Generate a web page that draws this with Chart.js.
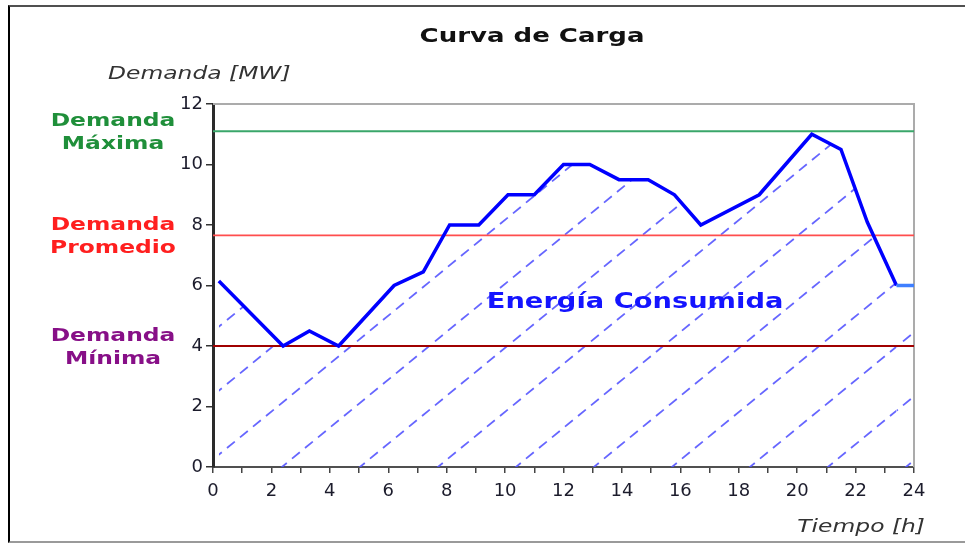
<!DOCTYPE html>
<html>
<head>
<meta charset="utf-8">
<title>Curva de Carga</title>
<script src="https://cdn.jsdelivr.net/npm/chart.js@4.4.1/dist/chart.umd.min.js"></script>
<style>
  html, body { margin: 0; padding: 0; background: #fff; }
  #frame { position: absolute; left: 8px; top: 5px; width: 957px; height: 534px;
           border-left: 2px solid #000; border-top: 2px solid #505050; border-bottom: 2px solid #9a9a9a; }
  #wrap { position: absolute; left: 0; top: 0; width: 965px; height: 543px; }
</style>
</head>
<body>
<div id="frame"></div>
<div id="wrap"><canvas id="curva"></canvas></div>
<script>
// horas y demanda
const horas   = [0.2, 2.4, 3.3, 4.3, 6.2, 7.2, 8.1, 9.1, 10.1, 11, 12, 12.9, 13.9, 14.9, 15.8, 16.7, 18.7, 20.5, 21.5, 22.4, 23.4, 24];
const demanda = [6.15, 4, 4.5, 4, 6, 6.45, 8, 8, 9, 9, 10, 10, 9.5, 9.5, 9, 8, 9, 11, 10.5, 8.1, 6, 6];

// niveles de referencia: maxima, promedio, minima
const niveles = [11.1, 7.66, 4.0];
const nivelNombres = [['Demanda', 'Máxima'], ['Demanda', 'Promedio'], ['Demanda', 'Mínima']];

const rangoX = [0, 24];
const rangoY = [0, 12];

// rayado diagonal punteado para la energia consumida
function hacerRayado() {
  const tw = 78, th = 64;
  const tile = document.createElement('canvas');
  tile.width = tw; tile.height = th;
  const t = tile.getContext('2d');
  const paso = Math.hypot(tw, th) / 6;
  t.strokeStyle = 'rgba(85,85,255,0.9)';
  t.lineWidth = 1.8;
  t.setLineDash([paso * 0.6, paso * 0.4]);
  for (let k = 0; k <= 2; k++) {
    t.beginPath();
    t.moveTo((k - 2) * tw, 2 * th);
    t.lineTo((k + 1) * tw, -th);
    t.stroke();
  }
  const pat = t.createPattern(tile, 'repeat');
  pat.setTransform(new DOMMatrix().translate(-7, 0));
  return pat;
}

const SX = 1.3; // el texto original esta estirado a lo ancho
function texto(ctx, str, x, y, font, color, align) {
  ctx.save();
  ctx.translate(x, y);
  ctx.scale(SX, 1);
  ctx.font = font;
  ctx.fillStyle = color;
  ctx.textAlign = align;
  ctx.textBaseline = 'alphabetic';
  ctx.fillText(str, 0, 0);
  ctx.restore();
}

const marco = {
  id: 'marco',
  beforeDatasetsDraw(chart) {
    const { ctx, chartArea: a } = chart;
    ctx.save();
    ctx.strokeStyle = '#ababab';
    ctx.lineWidth = 2;
    ctx.beginPath();
    ctx.moveTo(a.left, a.top);
    ctx.lineTo(a.right, a.top);
    ctx.lineTo(a.right, a.bottom);
    ctx.stroke();
    ctx.restore();
  }
};

const coloresNivel = ['#1f8f3a', '#ff1f1f', '#870f87'];

const rotulos = {
  id: 'rotulos',
  afterDraw(chart) {
    const { ctx, scales: { x, y } } = chart;
    texto(ctx, 'Curva de Carga', 532, 42, 'bold 20px "DejaVu Sans"', '#111', 'center');
    texto(ctx, 'Demanda [MW]', 108, 79, 'italic 18px "DejaVu Sans"', '#333', 'left');
    texto(ctx, 'Tiempo [h]', 925, 532, 'italic 18px "DejaVu Sans"', '#333', 'right');
    texto(ctx, 'Energía Consumida', x.getPixelForValue(14.45), y.getPixelForValue(5.25),
          'bold 21px "DejaVu Sans"', '#1414ff', 'center');
    niveles.forEach((v, i) => {
      const py = y.getPixelForValue(v);
      texto(ctx, nivelNombres[i][0], 113, py - 5, 'bold 18px "DejaVu Sans"', coloresNivel[i], 'center');
      texto(ctx, nivelNombres[i][1], 113, py + 18, 'bold 18px "DejaVu Sans"', coloresNivel[i], 'center');
    });
  }
};

const datasets = [{
  label: 'Demanda',
  data: horas.map((h, i) => ({ x: h, y: demanda[i] })),
  borderColor: '#0000ff',
  borderWidth: 3.5,
  pointRadius: 0,
  fill: 'origin',
  backgroundColor: hacerRayado(),
  segment: { borderColor: c => c.p1DataIndex === horas.length - 1 ? '#3f7fff' : undefined },
  order: 0
}];
const lineasNivel = ['#3aa66a', '#ff4d4d', '#a00000'];
niveles.forEach((v, i) => {
  datasets.push({
    label: nivelNombres[i].join(' '),
    data: rangoX.map(h => ({ x: h, y: v })),
    borderColor: lineasNivel[i],
    borderWidth: 1.8,
    pointRadius: 0,
    fill: false,
    order: 1
  });
});

const fuenteTicks = { family: 'DejaVu Sans', size: 18 };

new Chart(document.getElementById('curva'), {
  type: 'line',
  data: { datasets },
  options: {
    responsive: true,
    maintainAspectRatio: false,
    animation: false,
    layout: { padding: { left: 173, right: 51, top: 104, bottom: 36 } },
    plugins: {
      legend: { display: false },
      tooltip: { enabled: false },
      filler: { drawTime: 'beforeDatasetsDraw' }
    },
    scales: {
      x: {
        type: 'linear',
        min: rangoX[0], max: rangoX[1],
        afterFit: s => { s.height = 40; },
        grid: { drawOnChartArea: false, tickLength: 6, color: '#444', lineWidth: 1.5 },
        border: { color: '#505050', width: 2 },
        ticks: {
          stepSize: 1, autoSkip: false, maxRotation: 0, padding: 8,
          color: '#1c1c2c', font: fuenteTicks,
          callback: v => (v % 2 === 0 ? v : '')
        }
      },
      y: {
        min: rangoY[0], max: rangoY[1],
        afterFit: s => { s.width = 40; },
        grid: { drawOnChartArea: false, tickLength: 7, color: '#333', lineWidth: 1.5 },
        border: { color: '#2a2a2a', width: 3 },
        ticks: { stepSize: 2, padding: 3, color: '#1c1c2c', font: fuenteTicks }
      }
    }
  },
  plugins: [marco, rotulos]
});
</script>
</body>
</html>
